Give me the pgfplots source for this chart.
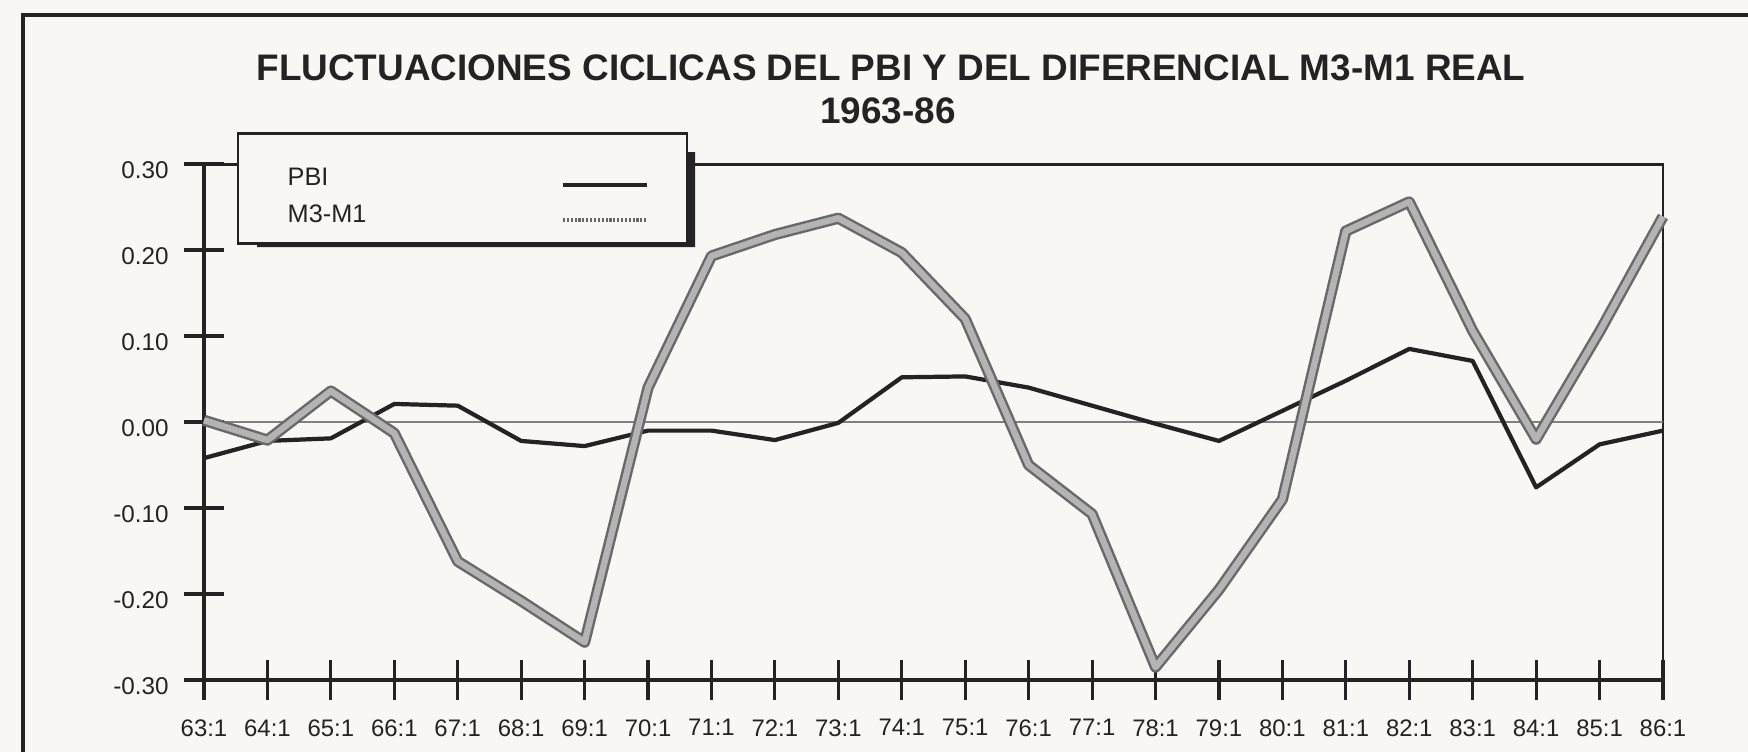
\documentclass[border=0pt]{standalone}
\usepackage{fontspec}
\setmainfont{Liberation Sans}
\usepackage{pgfplots}
\pgfplotsset{compat=1.18}
\definecolor{bg}{RGB}{249,247,243}
\definecolor{ink}{RGB}{35,35,35}
\definecolor{bandout}{RGB}{105,105,105}
\definecolor{bandin}{RGB}{180,180,180}
\pgfplotstableread{
x y
0 -0.042
1 -0.022
2 -0.019
3 0.021
4 0.019
5 -0.022
6 -0.028
7 -0.010
8 -0.010
9 -0.021
10 -0.001
11 0.052
12 0.053
13 0.040
14 0.019
15 -0.002
16 -0.022
17 0.013
18 0.048
19 0.085
20 0.071
21 -0.076
22 -0.026
23 -0.010
}\pbi
\pgfplotstableread{
x y
0 0.002
1 -0.021
2 0.036
3 -0.013
4 -0.162
5 -0.208
6 -0.256
7 0.040
8 0.193
9 0.218
10 0.237
11 0.197
12 0.120
13 -0.050
14 -0.107
15 -0.285
16 -0.195
17 -0.090
18 0.222
19 0.256
20 0.106
21 -0.020
22 0.105
23 0.239
}\mthree
\begin{document}
\begin{tikzpicture}
\useasboundingbox (0,0) rectangle (17.48cm,7.52cm);
\fill[bg] (0,0) rectangle (17.48cm,7.52cm);
\draw[line width=0.9pt, ink] (0.23cm,0) -- (0.23cm,7.37cm) -- (17.48cm,7.37cm);
\node[anchor=base, ink, font=\bfseries\fontsize{10.5pt}{12pt}\selectfont] at (8.91cm,6.72cm) {FLUCTUACIONES CICLICAS DEL PBI Y DEL DIFERENCIAL M3-M1 REAL};
\node[anchor=base, ink, font=\bfseries\fontsize{10.5pt}{12pt}\selectfont] at (8.88cm,6.29cm) {1963-86};
\begin{axis}[
  at={(2.04cm,0.72cm)}, anchor=south west,
  scale only axis, width=14.59cm, height=5.16cm,
  xmin=0, xmax=23, ymin=-0.3, ymax=0.3,
  clip=false,
  axis lines*=left,
  axis line style={line width=1.1pt, ink},
  tick align=center, major tick length=4mm,
  tick style={line width=0.9pt, ink},
  xtick={0,...,23},
  xticklabels={63:1,64:1,65:1,66:1,67:1,68:1,69:1,70:1,71:1,72:1,73:1,74:1,75:1,76:1,77:1,78:1,79:1,80:1,81:1,82:1,83:1,84:1,85:1,86:1},
  ytick={-0.3,-0.2,-0.1,0,0.1,0.2,0.3},
  yticklabels={-0.30,-0.20,-0.10,0.00,0.10,0.20,0.30},
  xticklabel style={font=\fontsize{6.8pt}{8pt}\selectfont, text=ink, yshift=-0.7mm},
  yticklabel style={font=\fontsize{6.9pt}{8pt}\selectfont, text=ink, xshift=-0.3mm, yshift=-0.6mm},
]
\draw[line width=0.85pt, ink] (rel axis cs:0,1) -- (rel axis cs:1,1) -- (rel axis cs:1,0);
\addplot[line width=0.6pt, gray] coordinates {(0,0) (23,0)};
\addplot[line width=1.2pt, ink, line join=round] table {\pbi};
\addplot[line width=3.2pt, bandout, line join=round] table {\mthree};
\addplot[line width=1.8pt, bandin, line join=round] table {\mthree};
\end{axis}
% legend
\fill[ink] (2.57cm,5.05cm) -- (6.95cm,5.05cm) -- (6.95cm,6.00cm) -- (6.87cm,6.00cm) -- (6.87cm,5.09cm) -- (2.57cm,5.09cm) -- cycle;
\draw[line width=0.85pt, ink, fill=bg] (2.38cm,5.09cm) rectangle (6.87cm,6.19cm);
\node[anchor=base west, inner sep=0pt, ink, font=\fontsize{7.2pt}{8pt}\selectfont] at (2.87cm,5.67cm) {PBI};
\node[anchor=base west, inner sep=0pt, ink, font=\fontsize{7.2pt}{8pt}\selectfont] at (2.87cm,5.30cm) {M3-M1};
\draw[line width=0.9pt, ink] (5.63cm,5.67cm) -- (6.47cm,5.67cm);
\draw[line width=1pt, gray!80!black, dash pattern=on 0.6pt off 0.5pt] (5.63cm,5.32cm) -- (6.47cm,5.32cm);
\end{tikzpicture}
\end{document}
